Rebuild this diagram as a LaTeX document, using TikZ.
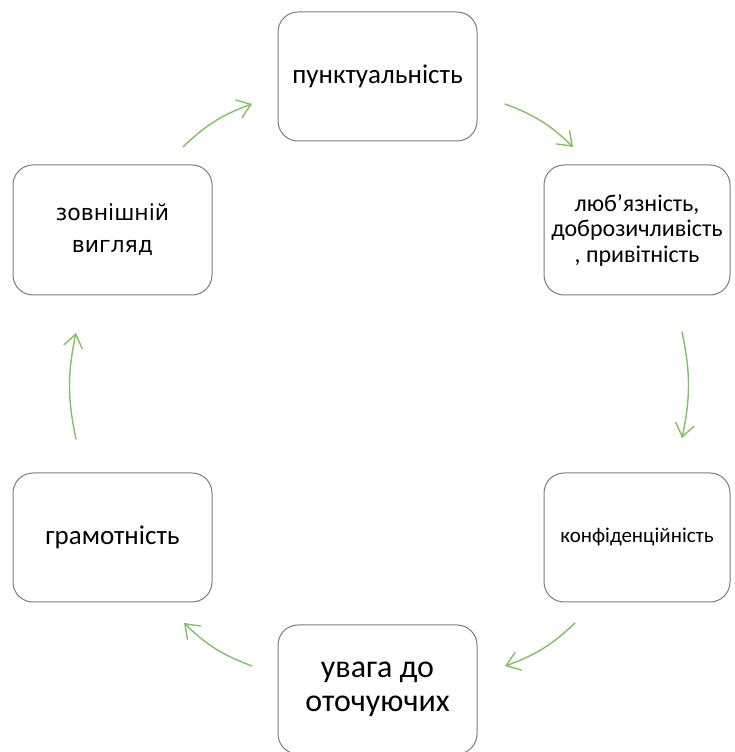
\documentclass[tikz,border=0pt]{standalone}
\usepackage{fontspec}
\setmainfont{Carlito}
\newfontfamily\dejavu{DejaVu Sans}
\usetikzlibrary{arrows.meta}
\definecolor{boxgray}{RGB}{125,125,125}
\definecolor{arrgreen}{RGB}{128,194,98}
\begin{document}
\begin{tikzpicture}[x=1pt,y=1pt,
  box/.style={draw=boxgray, line width=1pt, rounded corners=20pt, fill=white, align=center, inner sep=2pt, text=black},
  arr/.style={draw=arrgreen, line width=1.4pt, line cap=round, -{Straight Barb[length=13pt,width=19pt]}}]
\useasboundingbox (0,0) rectangle (734,752);
\fill[white] (0,0) rectangle (734,752);
% boxes
\node[box, minimum width=199pt, minimum height=129pt, font=\fontsize{27}{30}\selectfont] (top) at (377.5,675.5)
  {пунктуальність};
\node[box, minimum width=186pt, minimum height=130pt, font=\fontsize{24}{25.5}\selectfont] (rtop) at (637,522)
  {любʼязність,\\доброзичливість\\, привітність};
\node[box, minimum width=186pt, minimum height=129pt, font=\fontsize{21}{24}\selectfont] (rbot) at (637,214.5)
  {конфіденційність};
\node[box, minimum width=199pt, minimum height=129pt, font=\fontsize{32}{34}\selectfont] (bot) at (377.5,62.5)
  {увага до\\оточуючих};
\node[box, minimum width=199pt, minimum height=129pt, font=\fontsize{27}{30}\selectfont] (lbot) at (112.5,214.5)
  {грамотність};
\node[box, minimum width=199pt, minimum height=130pt, font=\dejavu\fontsize{22}{32}\selectfont] (ltop) at (112.5,522)
  {зовнішній\\вигляд};
% arrow ends
\coordinate (a1s) at (183,605); \coordinate (a1e) at (252,648);
\coordinate (a2s) at (505,648); \coordinate (a2e) at (573,605);
\coordinate (a3s) at (682,420); \coordinate (a3e) at (682,314);
\coordinate (a4s) at (575,129); \coordinate (a4e) at (505,86);
\coordinate (a5s) at (252,86);  \coordinate (a5e) at (184,129);
\coordinate (a6s) at (76,313);  \coordinate (a6e) at (76,419);
\draw[arr] (a1s) to[bend left=12] (a1e);
\draw[arr] (a2s) to[bend left=12] (a2e);
\draw[arr] (a3s) to[bend left=12] (a3e);
\draw[arr] (a4s) to[bend left=12] (a4e);
\draw[arr] (a5s) to[bend left=12] (a5e);
\draw[arr] (a6s) to[bend left=12] (a6e);
\end{tikzpicture}
\end{document}
